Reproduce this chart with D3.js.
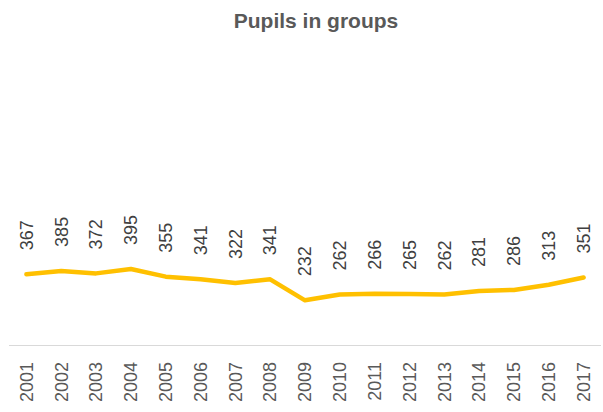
<!DOCTYPE html>
<html>
<head>
<meta charset="utf-8">
<script src="https://cdn.jsdelivr.net/npm/d3@7"></script>
<style>
  body { margin: 0; background: #fff; }
  svg { display: block; font-family: "Liberation Sans", Arial, sans-serif; }
</style>
</head>
<body>
<div id="chart"></div>
<script>
// chart data
var years = ["2001","2002","2003","2004","2005","2006","2007","2008","2009","2010","2011","2012","2013","2014","2015","2016","2017"];
var pupils = [367, 385, 372, 395, 355, 341, 322, 341, 232, 262, 266, 265, 262, 281, 286, 313, 351];
var chartTitle = "Pupils in groups";

var width = 603, height = 412;

var svg = d3.select("#chart").append("svg")
  .attr("width", width)
  .attr("height", height);

// title
svg.append("text")
  .attr("x", 316)
  .attr("y", 28)
  .attr("text-anchor", "middle")
  .attr("font-size", "21px")
  .attr("font-weight", "bold")
  .attr("fill", "#595959")
  .text(chartTitle);

var x = d3.scaleBand().domain(years).range([9, 601]);
var y = d3.scaleLinear().domain([0, 1600]).range([345, 37]);

// bottom axis line
svg.append("line")
  .attr("x1", 9).attr("x2", 601)
  .attr("y1", 345.5).attr("y2", 345.5)
  .attr("stroke", "#d9d9d9")
  .attr("stroke-width", 1);

// year labels, rotated
svg.selectAll(".year")
  .data(years)
  .enter().append("text")
  .attr("class", "year")
  .attr("transform", function(d) { return "translate(" + (x(d) + x.bandwidth() / 2) + ",362) rotate(-90)"; })
  .attr("text-anchor", "end")
  .attr("dy", "0.35em")
  .attr("font-size", "18px")
  .attr("fill", "#595959")
  .text(function(d) { return d; });

// the line
var line = d3.line()
  .x(function(d, i) { return x(years[i]) + x.bandwidth() / 2; })
  .y(function(d) { return y(d); });

svg.append("path")
  .attr("d", line(pupils))
  .attr("fill", "none")
  .attr("stroke", "#FFC000")
  .attr("stroke-width", 4.5)
  .attr("stroke-linejoin", "round")
  .attr("stroke-linecap", "round");

// value labels above the points
svg.selectAll(".val")
  .data(pupils)
  .enter().append("text")
  .attr("class", "val")
  .attr("transform", function(d, i) { return "translate(" + (x(years[i]) + x.bandwidth() / 2) + "," + (y(d) - 24) + ") rotate(-90)"; })
  .attr("text-anchor", "start")
  .attr("dy", "0.35em")
  .attr("font-size", "18px")
  .attr("fill", "#404040")
  .text(function(d) { return d; });
</script>
</body>
</html>
